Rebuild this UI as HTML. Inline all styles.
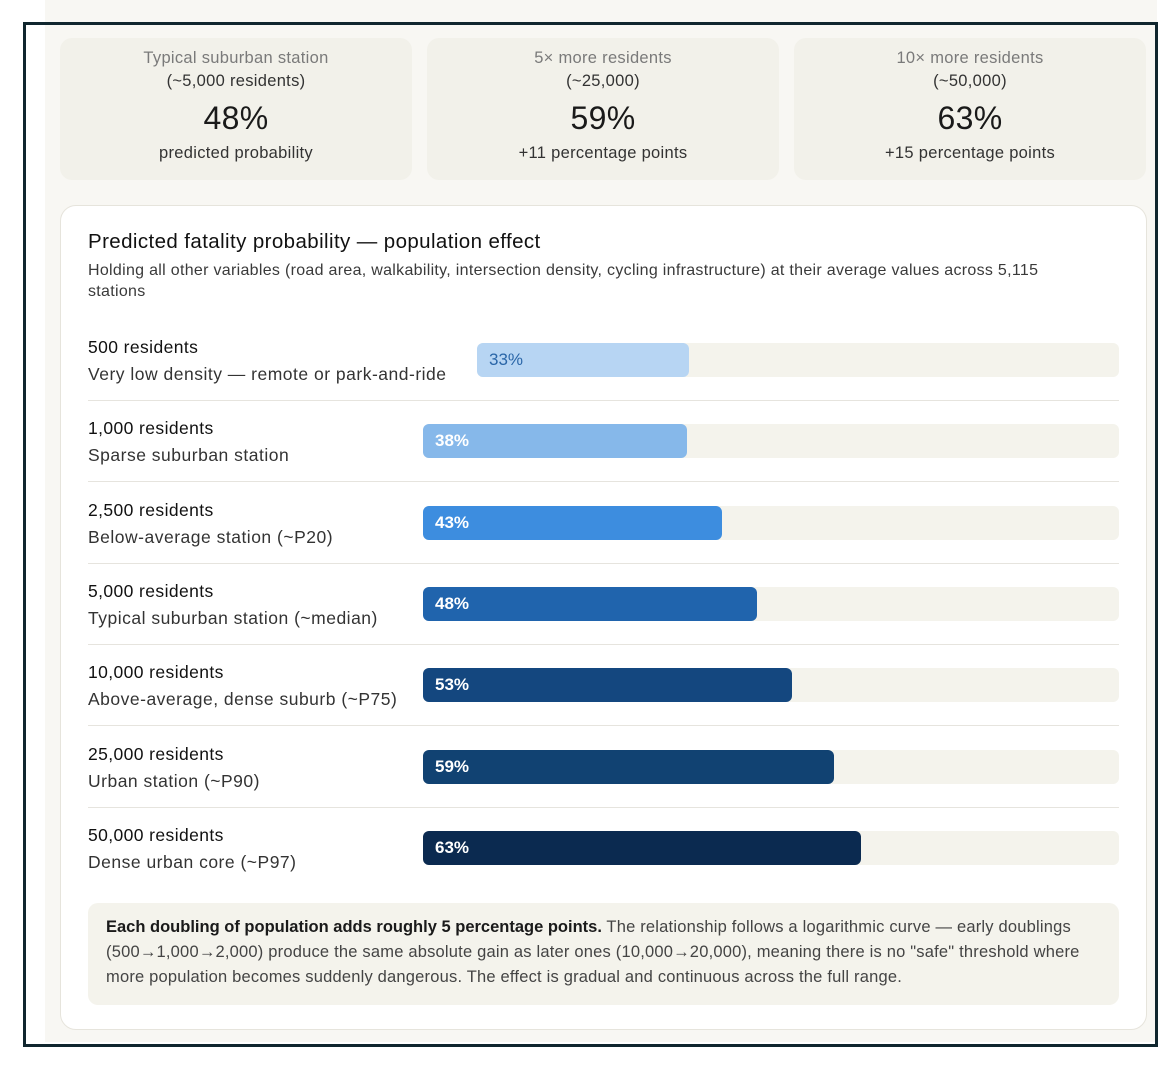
<!DOCTYPE html>
<html><head><meta charset="utf-8"><style>
*{margin:0;padding:0;box-sizing:border-box}
body{width:1173px;height:1065px;background:#fff;font-family:"Liberation Sans","DejaVu Sans",sans-serif;position:relative;overflow:hidden;color:#1c1c1c}
.bg{position:absolute;left:45px;top:0;width:1112px;height:1042px;background:#f8f7f3}
.frame{position:absolute;left:23px;top:22px;width:1135px;height:1025px;border:3px solid #10262e}
.stat{position:absolute;top:38px;width:352px;height:142px;background:#f2f1ea;border-radius:12px;text-align:center;letter-spacing:0.3px}
.stat .l1{margin-top:9px;font-size:16.5px;color:#7a7a7a;line-height:22px}
.stat .l2{font-size:16.5px;color:#333;line-height:24px}
.stat .big{font-size:32px;line-height:44px;color:#1a1a1a;margin-top:3px}
.stat .sub{font-size:16.5px;color:#333;line-height:22px;margin-top:2px}
.card{position:absolute;left:60px;top:205px;width:1087px;height:825px;background:#fff;border:1px solid #e6e4dc;border-radius:16px}
.title{position:absolute;left:27px;top:24px;font-size:20.5px;color:#111;letter-spacing:0.4px}
.desc{position:absolute;left:27px;top:54px;width:1000px;font-size:16px;line-height:21px;color:#3a3a3a;letter-spacing:0.3px}
.row{position:absolute;left:27px;width:1031px;height:81px}
.row .name{position:absolute;left:0;top:-7px;font-size:17.5px;color:#111;line-height:22px;letter-spacing:0.4px}
.row .lab{position:absolute;left:0;top:20px;font-size:17.5px;color:#333;line-height:22px;letter-spacing:0.5px}
.track{position:absolute;top:0;height:34px;background:#f4f3ec;border-radius:6px}
.bar{position:absolute;left:0;top:0;height:34px;border-radius:6px;color:#fff;font-size:17px;font-weight:bold;line-height:34px;padding-left:12px}
.div{position:absolute;left:27px;width:1031px;height:1px;background:#e6e4de}
.note{position:absolute;left:27px;top:697px;width:1031px;height:102px;background:#f4f3ec;border-radius:10px;padding:12px 18px;font-size:16.5px;line-height:25px;color:#444;letter-spacing:0.2px}
.note b{color:#1a1a1a;font-weight:bold;letter-spacing:0}
</style></head><body>
<div class="bg"></div>
<div class="stat" style="left:60px"><div class="l1">Typical suburban station</div><div class="l2">(~5,000 residents)</div><div class="big">48%</div><div class="sub">predicted probability</div></div>
<div class="stat" style="left:427px"><div class="l1">5× more residents</div><div class="l2">(~25,000)</div><div class="big">59%</div><div class="sub">+11 percentage points</div></div>
<div class="stat" style="left:794px"><div class="l1">10× more residents</div><div class="l2">(~50,000)</div><div class="big">63%</div><div class="sub">+15 percentage points</div></div>
<div class="card" id="card">
<div class="title">Predicted fatality probability — population effect</div>
<div class="desc">Holding all other variables (road area, walkability, intersection density, cycling infrastructure) at their average values across 5,115 stations</div>
<div class="note"><b>Each doubling of population adds roughly 5 percentage points.</b> The relationship follows a logarithmic curve — early doublings (500→1,000→2,000) produce the same absolute gain as later ones (10,000→20,000), meaning there is no "safe" threshold where more population becomes suddenly dangerous. The effect is gradual and continuous across the full range.</div>
</div>
<div class="frame"></div>
<script>
const categories=["500 residents","1,000 residents","2,500 residents","5,000 residents","10,000 residents","25,000 residents","50,000 residents"];
const descriptions=["Very low density — remote or park-and-ride","Sparse suburban station","Below-average station (~P20)","Typical suburban station (~median)","Above-average, dense suburb (~P75)","Urban station (~P90)","Dense urban core (~P97)"];
const values=[33,38,43,48,53,59,63];
const colors=["#b7d5f3","#86b8ea","#3d8ddf","#2064ad","#14477f","#114272","#0b2a50"];
const card=document.getElementById('card');
values.forEach((v,i)=>{
  const top=137+i*81.3;
  const row=document.createElement('div');
  row.className='row';row.style.top=top+'px';
  
  
  const n=document.createElement('div');n.className='name';n.textContent=categories[i];
  
  
  const l=document.createElement('div');l.className='lab';l.textContent=descriptions[i];
  
  
  const tl=i===0?389:335;
  const tw=1031-tl;
  const t=document.createElement('div');t.className='track';t.style.left=tl+'px';t.style.width=tw+'px';
  
  
  const b=document.createElement('div');b.className='bar';b.style.width=(tw*v/100)+'px';b.style.background=colors[i];
  if(i===0){b.style.color='#2a66a8';b.style.fontWeight='normal';}
  b.textContent=v+'%';
  
  
  t.appendChild(b);row.append(n,l,t);card.appendChild(row);
  if(i<values.length-1){const d=document.createElement('div');d.className='div';d.style.top=(top+57)+'px';
    
    
    card.appendChild(d);}
});
</script>
</body></html>
